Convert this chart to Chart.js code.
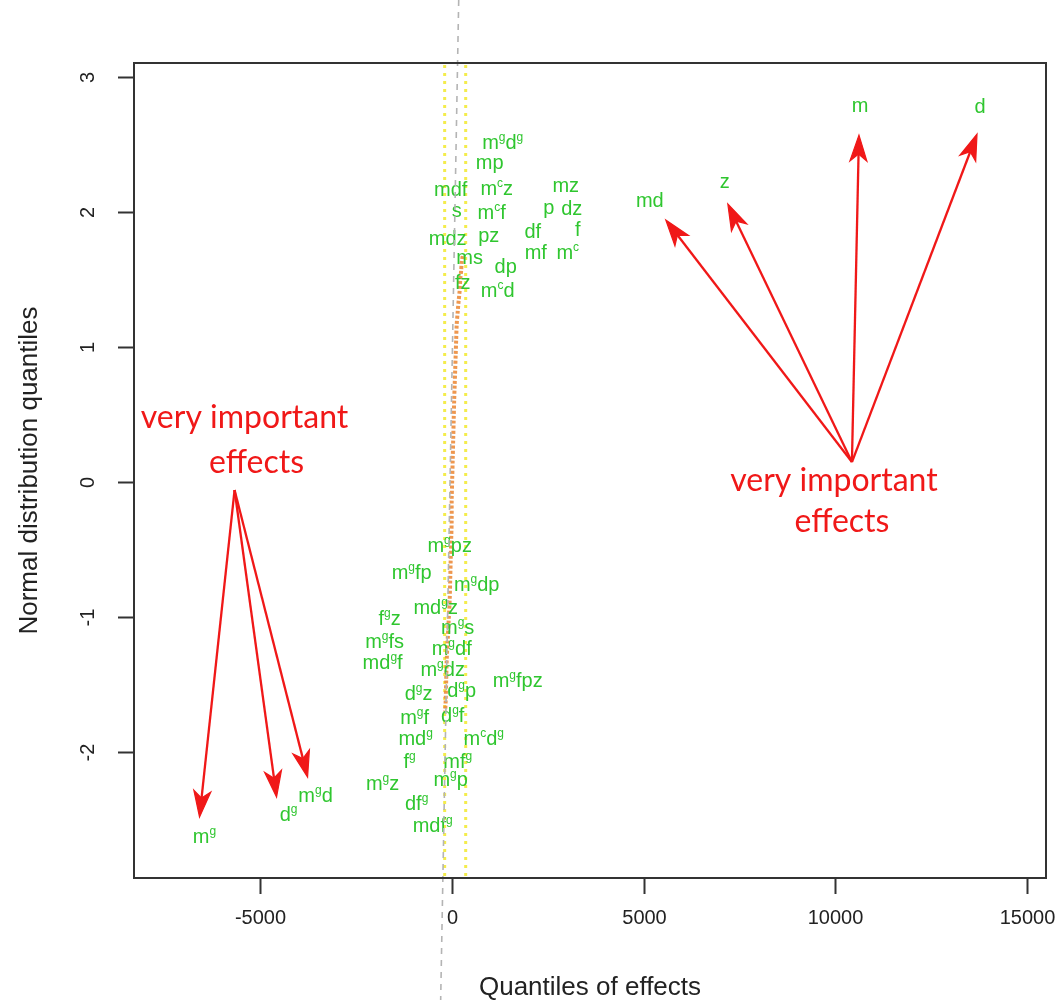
<!DOCTYPE html>
<html><head><meta charset="utf-8">
<script src="https://cdn.jsdelivr.net/npm/chart.js@4.4.0/dist/chart.umd.min.js"></script>
<style>html,body{margin:0;padding:0;background:#fff}#wrap{width:1064px;height:1000px;position:relative}</style>
</head><body><div id="wrap"><canvas id="c"></canvas></div>
<script>
// ---- data ----
const xTicks = [-5000, 0, 5000, 10000, 15000];
const yTicks = [-2, -1, 0, 1, 2, 3];
const xTitle = "Quantiles of effects";
const yTitle = "Normal distribution quantiles";

// labelled effects (^ marks a superscript letter)
const labelNames = ["m","d","md","z","m^g","d^g","m^gd",
  "m^gd^g","mp","mdf","m^cz","mz","s","m^cf","p","dz","mdz","pz","df","f","ms","mf","m^c","dp","fz","m^cd",
  "m^gpz","m^gfp","m^gdp","md^gz","f^gz","m^gs","m^gfs","m^gdf","md^gf","m^gdz","m^gfpz","d^gz","d^gp","m^gf","d^gf","md^g","m^cd^g","f^g","mf^g","m^gz","m^gp","df^g","mdf^g"];
const labelX = [10641,13770,5164,7120,-6442,-4251,-3547,
  1330,991,-26,1174,2973,130,1043,2530,3130,-104,965,2112,3286,469,2191,3025,1408,287,1200,
  -52,-1043,652,-417,-1617,156,-1747,0,-1800,-235,1721,-861,261,-965,26,-939,835,-1095,156,-1800,-26,-913,-496];
const labelY = [2.793,2.785,2.089,2.230,-2.622,-2.459,-2.319,
  2.519,2.370,2.170,2.178,2.200,2.015,2.000,2.037,2.030,1.807,1.830,1.859,1.874,1.667,1.704,1.704,1.600,1.481,1.422,
  -0.467,-0.667,-0.756,-0.926,-1.007,-1.074,-1.178,-1.230,-1.333,-1.385,-1.467,-1.563,-1.541,-1.741,-1.726,-1.896,-1.896,-2.067,-2.067,-2.230,-2.200,-2.378,-2.541];

// small effects (orange trail)
const smallX = [287,261,248,222,209,183,156,130,117,104,91,78,65,52,39,26,13,0,0,-13,-26,-39,-52,-78,-104,-130,-143,-156,-170];
const smallY = [1.674,1.630,1.570,1.496,1.422,1.348,1.259,1.163,1.052,0.941,0.830,0.719,0.607,0.459,0.311,0.163,0.015,-0.133,-0.281,-0.430,-0.578,-0.726,-0.874,-1.022,-1.170,-1.319,-1.467,-1.615,-1.700];

// reference (qq) line and margin lines
const qqX = [183, -287];
const qqY = [3.57, -3.837];
const marginX = [-183, 365];

// annotation arrows
const arrowFromX = [10432,10432,10432,10432,-5659,-5659,-5659];
const arrowFromY = [0.148,0.148,0.148,0.148,-0.059,-0.059,-0.059];
const arrowToX = [5581,7198,10615,13692,-6572,-4564,-3756];
const arrowToY = [1.941,2.059,2.570,2.578,-2.481,-2.333,-2.185];
const noteText = ["very important","effects","very important","effects"];
const noteX = [-5399,-5086,9963,10171];
const noteY = [0.474,0.141,0.007,-0.296];

// ---- drawing helpers ----
const GREEN = "#2fc62f";
const RED = "#f01818";
function parseRich(s){
  const segs=[];
  for(let i=0;i<s.length;i++){
    if(s[i]==='^'){segs.push({t:s[i+1],sup:true});i++;}
    else{
      if(segs.length && !segs[segs.length-1].sup) segs[segs.length-1].t+=s[i];
      else segs.push({t:s[i],sup:false});
    }
  }
  return segs;
}
function drawRich(ctx,s,cx,cy,size,color){
  const segs=parseRich(s);
  const bf=size+'px "Liberation Sans", Arial, sans-serif';
  const sf=Math.round(size*0.62)+'px "Liberation Sans", Arial, sans-serif';
  let w=0;
  segs.forEach(g=>{ctx.font=g.sup?sf:bf;g.w=ctx.measureText(g.t).width;w+=g.w;});
  let x=cx-w/2;
  const base=cy+size*0.36;
  ctx.fillStyle=color;ctx.textAlign='left';ctx.textBaseline='alphabetic';
  segs.forEach(g=>{ctx.font=g.sup?sf:bf;ctx.fillText(g.t,x,g.sup?base-size*0.42:base);x+=g.w;});
}
function arrow(ctx,x0,y0,x1,y1){
  const a=Math.atan2(y1-y0,x1-x0);
  const L=26, H=8.5, N=19;
  ctx.strokeStyle=RED;ctx.fillStyle=RED;ctx.lineWidth=2.3;
  ctx.beginPath();ctx.moveTo(x0,y0);ctx.lineTo(x1-N*Math.cos(a),y1-N*Math.sin(a));ctx.stroke();
  const c=Math.cos(a),s=Math.sin(a);
  ctx.beginPath();
  ctx.moveTo(x1,y1);
  ctx.lineTo(x1-L*c+H*s,y1-L*s-H*c);
  ctx.lineTo(x1-N*c,y1-N*s);
  ctx.lineTo(x1-L*c-H*s,y1-L*s+H*c);
  ctx.closePath();ctx.fill();
  ctx.lineWidth=1.2;ctx.stroke();
}

const overlay={
  id:'overlay',
  beforeDatasetsDraw(chart){
    const {ctx,chartArea:a,scales:{x}}=chart;
    ctx.save();
    ctx.strokeStyle='#f4ec4c';ctx.lineWidth=3;ctx.setLineDash([3,5]);
    marginX.forEach(v=>{const px=x.getPixelForValue(v);ctx.beginPath();ctx.moveTo(px,a.top+2);ctx.lineTo(px,a.bottom);ctx.stroke();});
    ctx.restore();
  },
  afterDatasetsDraw(chart){
    const {ctx,chartArea:a,scales:{x,y}}=chart;
    ctx.save();
    // labels
    const meta=chart.getDatasetMeta(1);
    meta.data.forEach((pt,i)=>drawRich(ctx,labelNames[i],pt.x,pt.y,20,GREEN));
    // qq line on top
    ctx.strokeStyle='#b4b4b4';ctx.lineWidth=1.6;ctx.setLineDash([6,6]);
    ctx.beginPath();ctx.moveTo(x.getPixelForValue(qqX[0]),y.getPixelForValue(qqY[0]));
    ctx.lineTo(x.getPixelForValue(qqX[1]),y.getPixelForValue(qqY[1]));ctx.stroke();
    ctx.setLineDash([]);
    // arrows
    for(let i=0;i<arrowFromX.length;i++){
      arrow(ctx,x.getPixelForValue(arrowFromX[i]),y.getPixelForValue(arrowFromY[i]),x.getPixelForValue(arrowToX[i]),y.getPixelForValue(arrowToY[i]));
    }
    // notes
    ctx.fillStyle=RED;ctx.textAlign='center';ctx.textBaseline='middle';
    ctx.font='32px Lato, "Open Sans", sans-serif';
    noteText.forEach((t,i)=>ctx.fillText(t,x.getPixelForValue(noteX[i]),y.getPixelForValue(noteY[i])));
    // box
    ctx.strokeStyle='#333';ctx.lineWidth=2;
    ctx.strokeRect(a.left,a.top,a.right-a.left,a.bottom-a.top);
    // ticks
    ctx.lineWidth=2;
    ctx.font='20px "Liberation Sans", Arial, sans-serif';ctx.fillStyle='#222';
    xTicks.forEach(v=>{const px=Math.round(x.getPixelForValue(v))+0.5;ctx.beginPath();ctx.moveTo(px,a.bottom);ctx.lineTo(px,a.bottom+16);ctx.stroke();
      ctx.textAlign='center';ctx.textBaseline='middle';ctx.fillText(String(v),px,a.bottom+40);});
    yTicks.forEach(v=>{const py=Math.round(y.getPixelForValue(v))+0.5;ctx.beginPath();ctx.moveTo(a.left,py);ctx.lineTo(a.left-16,py);ctx.stroke();
      ctx.save();ctx.translate(a.left-46,py);ctx.rotate(-Math.PI/2);ctx.textAlign='center';ctx.textBaseline='middle';ctx.fillText(String(v),0,0);ctx.restore();});
    // titles
    ctx.font='26px "Liberation Sans", Arial, sans-serif';ctx.fillStyle='#222';
    ctx.textAlign='center';ctx.textBaseline='middle';
    ctx.fillText(xTitle,(a.left+a.right)/2,988);
    ctx.save();ctx.translate(30,(a.top+a.bottom)/2);ctx.rotate(-Math.PI/2);ctx.fillText(yTitle,0,0);ctx.restore();
    ctx.restore();
  }
};

new Chart(document.getElementById('c'),{
  type:'scatter',
  data:{datasets:[
    {type:'line',data:smallX.map((v,i)=>({x:v,y:smallY[i]})),borderColor:'rgba(236,140,60,0.9)',borderWidth:4,borderDash:[3,2],pointRadius:0,tension:0.3,fill:false},
    {data:labelX.map((v,i)=>({x:v,y:labelY[i]})),pointRadius:0,showLine:false}
  ]},
  options:{
    responsive:true,maintainAspectRatio:false,animation:false,
    layout:{padding:{left:134,right:18,top:63,bottom:122}},
    plugins:{legend:{display:false},tooltip:{enabled:false}},
    scales:{
      x:{type:'linear',min:-8280,max:15490,display:false},
      y:{type:'linear',min:-2.933,max:3.104,display:false}
    }
  },
  plugins:[overlay]
});
</script></body></html>
